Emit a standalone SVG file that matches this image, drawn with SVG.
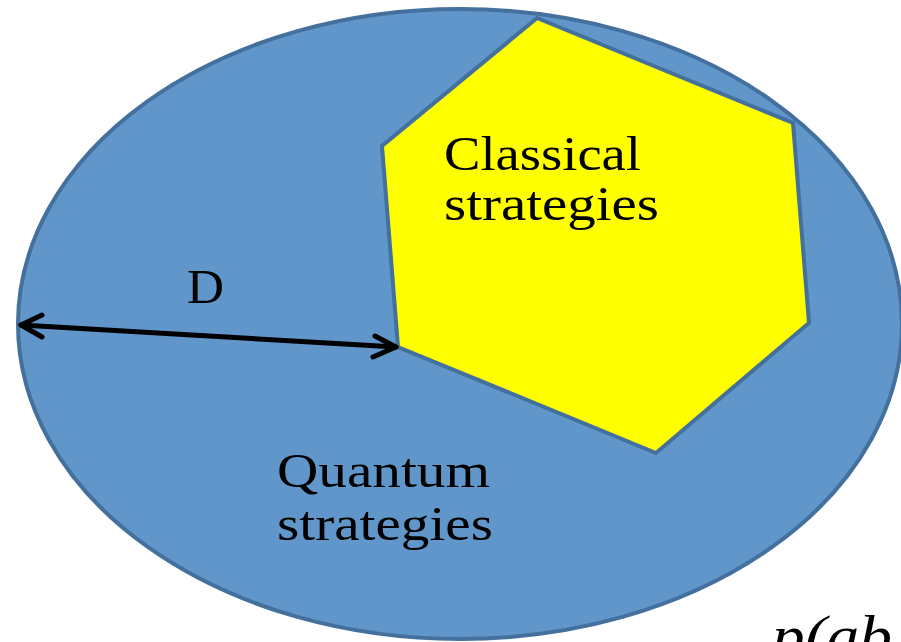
<svg xmlns="http://www.w3.org/2000/svg" width="901" height="642" viewBox="0 0 901 642">
  <style>
    .region { stroke: #44709D; stroke-width: 4; stroke-linejoin: miter; }
    .label { font-family: "Liberation Serif", "Times New Roman", serif; font-size: 48px; fill: #000; }
    .arrow { fill: none; stroke: #000; stroke-width: 5; stroke-linecap: round; stroke-linejoin: round; }
  </style>
  <rect width="901" height="642" fill="#ffffff"/>
  <g id="quantum">
    <ellipse class="region" cx="460" cy="324" rx="442" ry="315" fill="#6096C9"/>
    <text class="label" x="277" y="487" textLength="213" lengthAdjust="spacingAndGlyphs">Quantum</text>
    <text class="label" x="277" y="540" textLength="216" lengthAdjust="spacingAndGlyphs">strategies</text>
  </g>
  <g id="classical">
    <polygon class="region" points="537,18 793,123 809,323 656,453 398,347 382,146" fill="#FFFF00"/>
    <text class="label" x="444" y="170" textLength="197" lengthAdjust="spacingAndGlyphs">Classical</text>
    <text class="label" x="444" y="220" textLength="215" lengthAdjust="spacingAndGlyphs">strategies</text>
  </g>
  <g id="connectors">
    <line class="arrow" x1="21" y1="325" x2="396" y2="347"/>
    <polyline class="arrow" points="42,315 21,325 42,337"/>
    <polyline class="arrow" points="375,336 396,347 373,357"/>
  </g>
  <g id="distance-label">
    <text class="label" x="187" y="303" textLength="37" lengthAdjust="spacingAndGlyphs">D</text>
  </g>
  <g id="formula">
    <text x="772" y="655" font-family="Liberation Serif, serif" font-style="italic" font-size="56" textLength="120" lengthAdjust="spacingAndGlyphs">p(ab</text>
  </g>
</svg>
